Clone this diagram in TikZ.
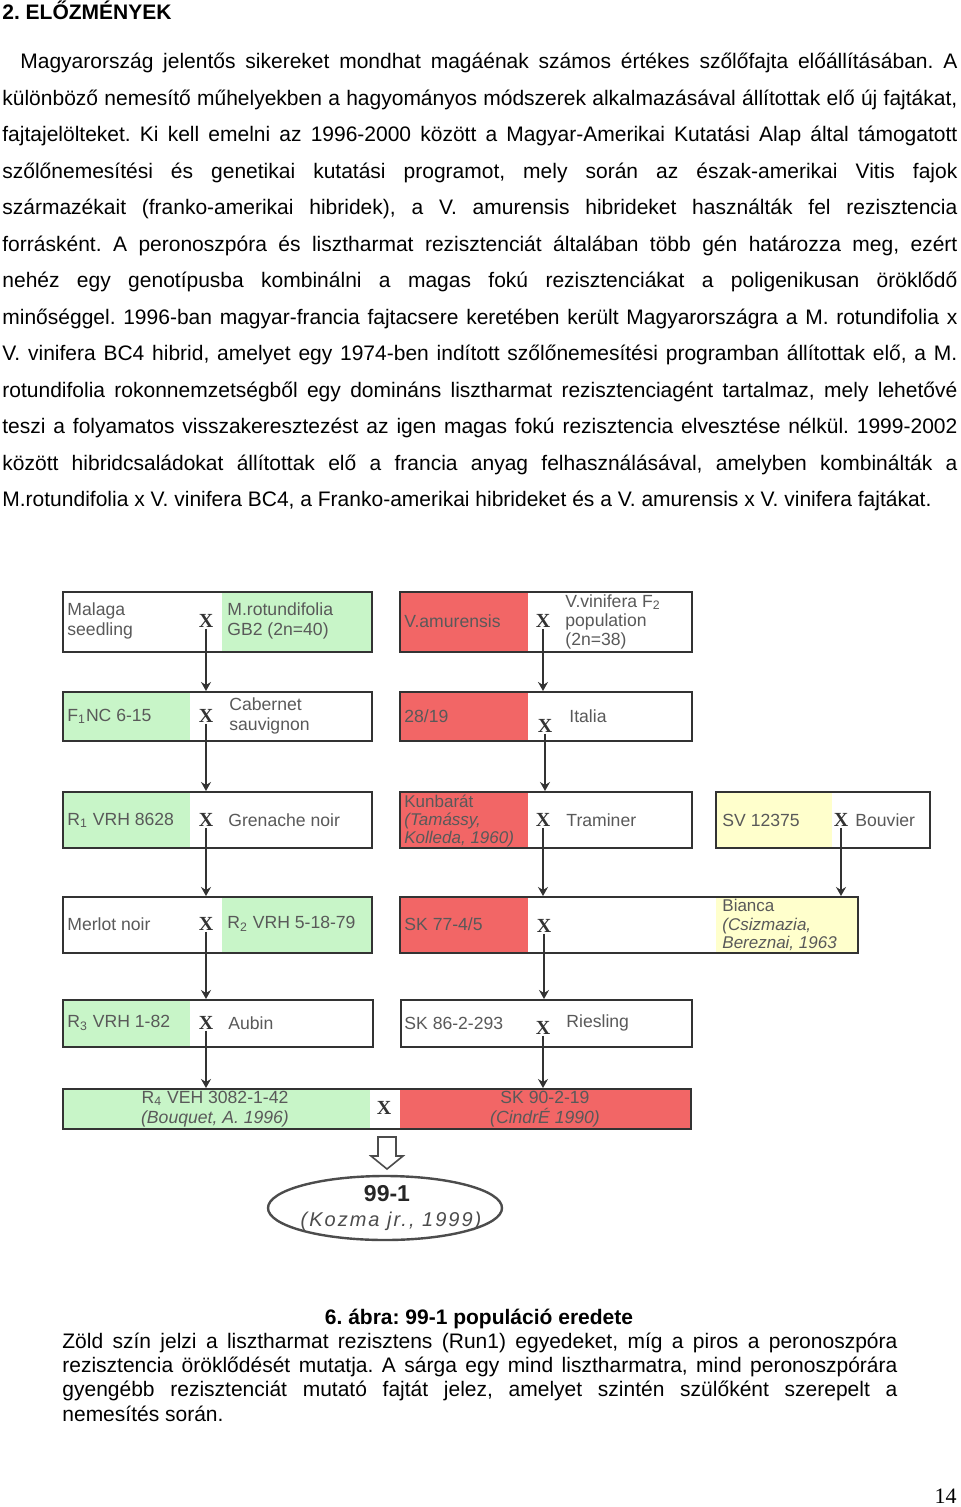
\documentclass[tikz,border=0pt]{standalone}
\usepackage{fontspec}
\setmainfont{Liberation Sans}
\newfontfamily\numfont{Liberation Serif}
\usetikzlibrary{arrows.meta,fit,shapes.geometric}
\definecolor{rungreen}{RGB}{200,245,200}
\definecolor{perored}{RGB}{242,102,102}
\definecolor{weakyellow}{RGB}{255,255,204}
\newcommand{\jbody}[1]{\makebox[477.5pt][s]{#1}}
\newcommand{\jfirst}[1]{\makebox[468.5pt][s]{#1}}
\newcommand{\jcap}[1]{\makebox[417.5pt][s]{#1}}
\frenchspacing

\begin{document}
\begin{tikzpicture}[x=0.5pt,y=-0.5pt,
  txt/.style={anchor=base west,inner sep=0,font=\fontsize{10.5}{12}\selectfont},
  box/.style={draw=black!80,line width=1pt,inner sep=0},
  lbl/.style={anchor=west,inner sep=0,align=left,text=black!65,font=\fontsize{8.8}{10}\selectfont},
  cross/.style={inner sep=0.5pt,text=black!80,font=\fontsize{10}{10}\selectfont\bfseries\numfont},
  arr/.style={-{Stealth[length=4.5pt,width=5pt,inset=1.5pt]},draw=black!80,line width=0.9pt}]
\useasboundingbox (0,0) rectangle (960,1507);
\fill[white] (0,0) rectangle (960,1507);

\node[txt,font=\fontsize{10.5}{12}\selectfont\bfseries] (title) at (2,20) {2. ELŐZMÉNYEK};
\node[txt] (p1) at (20,69) {\jfirst{Magyarország jelentős sikereket mondhat magáénak számos értékes szőlőfajta előállításában. A}};
\node[txt] (p2) at (2,105.5) {\jbody{különböző nemesítő műhelyekben a hagyományos módszerek alkalmazásával állítottak elő új fajtákat,}};
\node[txt] (p3) at (2,142) {\jbody{fajtajelölteket. Ki kell emelni az 1996-2000 között a Magyar-Amerikai Kutatási Alap által támogatott}};
\node[txt] (p4) at (2,178.5) {\jbody{szőlőnemesítési és genetikai kutatási programot, mely során az észak-amerikai Vitis fajok}};
\node[txt] (p5) at (2,215) {\jbody{származékait (franko-amerikai hibridek), a V. amurensis hibrideket használták fel rezisztencia}};
\node[txt] (p6) at (2,251.5) {\jbody{forrásként. A peronoszpóra és lisztharmat rezisztenciát általában több gén határozza meg, ezért}};
\node[txt] (p7) at (2,288) {\jbody{nehéz egy genotípusba kombinálni a magas fokú rezisztenciákat a poligenikusan öröklődő}};
\node[txt] (p8) at (2,324.5) {\jbody{minőséggel. 1996-ban magyar-francia fajtacsere keretében került Magyarországra a M. rotundifolia x}};
\node[txt] (p9) at (2,361) {\jbody{V. vinifera BC4 hibrid, amelyet egy 1974-ben indított szőlőnemesítési programban állítottak elő, a M.}};
\node[txt] (p10) at (2,397.5) {\jbody{rotundifolia rokonnemzetségből egy domináns lisztharmat rezisztenciagént tartalmaz, mely lehetővé}};
\node[txt] (p11) at (2,434) {\jbody{teszi a folyamatos visszakeresztezést az igen magas fokú rezisztencia elvesztése nélkül. 1999-2002}};
\node[txt] (p12) at (2,470.5) {\jbody{között hibridcsaládokat állítottak elő a francia anyag felhasználásával, amelyben kombinálták a}};
\node[txt] (p13) at (2,507) {M.rotundifolia x V. vinifera BC4, a Franko-amerikai hibrideket és a V. amurensis x V. vinifera fajtákat.};

\fill[rungreen] (222,592) rectangle (372,652);
\fill[perored] (400,592) rectangle (528,652);
\fill[rungreen] (63,692) rectangle (190,741);
\fill[perored] (400,692) rectangle (528,741);
\fill[rungreen] (63,792) rectangle (190,848);
\fill[perored] (400,792) rectangle (528,848);
\fill[weakyellow] (716,792) rectangle (832,848);
\fill[rungreen] (222,897) rectangle (372,953);
\fill[perored] (400,897) rectangle (528,953);
\fill[weakyellow] (716,897) rectangle (858,953);
\fill[rungreen] (63,1000) rectangle (190,1047);
\fill[rungreen] (63,1089) rectangle (370,1129);
\fill[perored] (400,1089) rectangle (691,1129);

\node[box,fit={(63,592) (372,652)}] (l1) {};
\node[box,fit={(400,592) (692,652)}] (r1) {};
\node[box,fit={(63,692) (372,741)}] (l2) {};
\node[box,fit={(400,692) (692,741)}] (r2) {};
\node[box,fit={(63,792) (372,848)}] (l3) {};
\node[box,fit={(400,792) (692,848)}] (r3) {};
\node[box,fit={(716,792) (930,848)}] (s3) {};
\node[box,fit={(63,897) (372,953)}] (l4) {};
\node[box,fit={(400,897) (858,953)}] (r4) {};
\node[box,fit={(63,1000) (373,1047)}] (l5) {};
\node[box,fit={(401,1000) (692,1047)}] (r5) {};
\node[box,fit={(63,1089) (691,1129)}] (b6) {};

\node[lbl] (ma) at (67,621) {Malaga\\seedling};
\node[lbl] (mb) at (227,621) {M.rotundifolia\\GB2 (2n=40)};
\node[lbl] (va) at (404,621) {V.amurensis};
\node[lbl,font=\fontsize{8.8}{9.7}\selectfont] (vb) at (565,622) {V.vinifera F\textsubscript{2}\\population\\(2n=38)};
\node[lbl] (na) at (67,716) {F\textsubscript{1}NC 6-15};
\node[lbl] (nb) at (229,716) {Cabernet\\sauvignon};
\node[lbl] (ia) at (404,716) {28/19};
\node[lbl] (ib) at (569,716) {Italia};
\node[lbl] (ga) at (67,820) {R\textsubscript{1} VRH 8628};
\node[lbl] (gb) at (228,820) {Grenache noir};
\node[lbl,font=\fontsize{8.5}{9}\selectfont] (ka) at (404,821) {Kunbarát\\\textit{(Tamássy,}\\\textit{Kolleda, 1960)}};
\node[lbl] (kb) at (566,820) {Traminer};
\node[lbl] (sa) at (722,820) {SV 12375};
\node[lbl] (sb) at (855,820) {Bouvier};
\node[lbl] (ea) at (67,924) {Merlot noir};
\node[lbl] (eb) at (227,924) {R\textsubscript{2} VRH 5-18-79};
\node[lbl] (ua) at (404,924) {SK 77-4/5};
\node[lbl,font=\fontsize{8.5}{9.2}\selectfont] (ub) at (722,925) {Bianca\\\textit{(Csizmazia,}\\\textit{Bereznai, 1963}};
\node[lbl] (aa) at (67,1023) {R\textsubscript{3} VRH 1-82};
\node[lbl] (ab) at (228,1023) {Aubin};
\node[lbl] (ra) at (404,1023) {SK 86-2-293};
\node[lbl] (rb) at (566,1023) {Riesling};
\node[lbl,anchor=center,align=center,font=\fontsize{8.8}{9.8}\selectfont] (ha) at (215,1109) {R\textsubscript{4} VEH 3082-1-42\\\textit{(Bouquet, A. 1996)}};
\node[lbl,anchor=center,align=center,font=\fontsize{8.8}{9.8}\selectfont] (hb) at (545,1109) {SK 90-2-19\\\textit{(CindrÉ 1990)}};

\node[cross] (xl1) at (206,621) {X};
\node[cross] (xl2) at (206,716) {X};
\node[cross] (xl3) at (206,820) {X};
\node[cross] (xl4) at (206,924) {X};
\node[cross] (xl5) at (206,1023) {X};
\node[cross] (xr1) at (543,621) {X};
\node[cross] (xr2) at (545,726) {X};
\node[cross] (xr3) at (543,820) {X};
\node[cross] (xr4) at (544,926) {X};
\node[cross] (xr5) at (543,1028) {X};
\node[cross] (xs3) at (841,820) {X};
\node[cross] (x6) at (384,1108) {X};

\draw[arr] (xl1) -- (xl1 |- l2.north);
\draw[arr] (xl2) -- (xl2 |- l3.north);
\draw[arr] (xl3) -- (xl3 |- l4.north);
\draw[arr] (xl4) -- (xl4 |- l5.north);
\draw[arr] (xl5) -- (xl5 |- b6.north);
\draw[arr] (xr1) -- (xr1 |- r2.north);
\draw[arr] (xr2) -- (xr2 |- r3.north);
\draw[arr] (xr3) -- (xr3 |- r4.north);
\draw[arr] (xr4) -- (xr4 |- r5.north);
\draw[arr] (xr5) -- (xr5 |- b6.north);
\draw[arr] (xs3) -- (xs3 |- r4.north);

\draw[draw=black!70,line width=0.8pt,fill=white] (378,1137) -- (396,1137) -- (396,1156) -- (403,1156) -- (387,1169) -- (371,1156) -- (378,1156) -- cycle;
\node[draw=black!70,line width=1.2pt,ellipse,minimum width=117pt,minimum height=32pt,inner sep=0] (pop) at (385,1208) {};
\node[inner sep=0,text=black!85,font=\fontsize{11.5}{12}\selectfont\bfseries] (popa) at (387,1194) {99-1};
\node[inner sep=0,text=black!70,font={\fontsize{10}{12}\selectfont\itshape\addfontfeatures{LetterSpace=10}}] (popb) at (391,1221) {(Kozma jr., 1999)};

\node[txt,anchor=base,font=\fontsize{10.5}{12}\selectfont\bfseries] (capt) at (479,1324) {6. ábra: 99-1 populáció eredete};
\node[txt] (c1) at (62,1348) {\jcap{Zöld szín jelzi a lisztharmat rezisztens (Run1) egyedeket, míg a piros a peronoszpóra}};
\node[txt] (c2) at (62,1372) {\jcap{rezisztencia öröklődését mutatja. A sárga egy mind lisztharmatra, mind peronoszpórára}};
\node[txt] (c3) at (62,1396.5) {\jcap{gyengébb rezisztenciát mutató fajtát jelez, amelyet szintén szülőként szerepelt a}};
\node[txt] (c4) at (62,1421) {nemesítés során.};

\node[anchor=base east,inner sep=0,font=\fontsize{11}{12}\selectfont\numfont] (pg) at (957,1503) {14};
\end{tikzpicture}
\end{document}
